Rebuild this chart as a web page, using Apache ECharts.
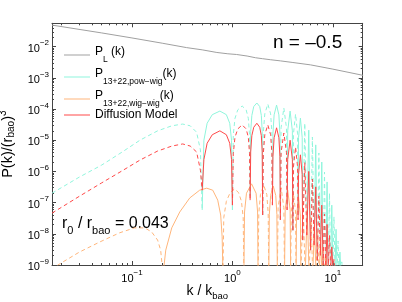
<!DOCTYPE html>
<html><head><meta charset="utf-8">
<script src="https://cdn.jsdelivr.net/npm/echarts@6/dist/echarts.min.js"></script>
<style>html,body{margin:0;padding:0;background:#fff}#c{width:402px;height:302px}</style>
</head><body><div id="c"></div>
<script>
// ---- data (k in units of k_bao; P signed: + solid, - dashed (negative values)) ----
const linK = [0.016, 0.05, 0.1, 0.2, 0.35, 0.5, 0.7, 0.9, 1.1, 1.4, 1.7, 2.0, 2.4, 3.0, 4.0, 6.0, 10, 20];
const linP = [0.049, 0.0275, 0.019, 0.0129, 0.0093, 0.0079, 0.0065, 0.0059, 0.0056, 0.0050, 0.0044, 0.0041, 0.0038, 0.0035, 0.0031, 0.0026, 0.0019, 0.0012];

const powK = [0.016, 0.03, 0.05, 0.08, 0.12, 0.18, 0.25, 0.32, 0.38, 0.44, 0.48, 0.5,
  0.5, 0.52, 0.56, 0.63, 0.75, 0.87, 0.94, 0.98, 1.0,
  1.0, 1.02, 1.06, 1.13, 1.25, 1.37, 1.44, 1.48, 1.5,
  1.5, 1.52, 1.56, 1.63, 1.75, 1.87, 1.94, 1.98, 2.0,
  2.0, 2.03, 2.1, 2.25, 2.4, 2.47, 2.5,
  2.5, 2.53, 2.6, 2.75, 2.9, 2.97, 3.0,
  3.0, 3.05, 3.25, 3.45, 3.5,
  3.5, 3.55, 3.75, 3.95, 4.0,
  4.0, 4.05, 4.25, 4.45, 4.5,
  4.5, 4.55, 4.75, 4.95, 5.0,
  5.0, 5.25, 5.5, 5.5, 5.75, 6.0, 6.0, 6.25, 6.5, 6.5, 6.75, 7.0, 7.0, 7.25, 7.5, 7.5, 7.75, 8.0,
  8.0, 8.25, 8.5, 8.5, 8.75, 9.0, 9.0, 9.25, 9.5, 9.5, 9.75, 10, 10, 10.25, 10.5, 10.5, 10.75, 11,
  11, 11.25, 11.5, 11.5, 11.75, 12, 12, 12.25, 12.5];
const powP = [-2.0e-7, -6.6e-7, -1.6e-6, -4.2e-6, -1.0e-5, -2.0e-5, -2.9e-5, -3.3e-5, -2.9e-5, -1.8e-5, -4.9e-6, -5.8e-8,
  5.8e-8, 1.0e-5, 3.5e-5, 6.6e-5, 8.6e-5, 6.6e-5, 3.5e-5, 1.0e-5, 5.8e-8,
  -5.8e-8, -1.5e-5, -5.0e-5, -9.4e-5, -1.25e-4, -9.4e-5, -5.0e-5, -1.5e-5, -1.7e-7,
  1.7e-7, 1.9e-5, 6.2e-5, 1.2e-4, 1.56e-4, 1.2e-4, 6.2e-5, 1.9e-5, 4.0e-8,
  -4.0e-8, -1.8e-5, -7.0e-5, -1.45e-4, -7.0e-5, -1.8e-5, -1.2e-7,
  1.2e-7, 1.6e-5, 6.5e-5, 1.34e-4, 6.5e-5, 1.6e-5, 2.8e-8,
  -2.8e-8, -2.5e-5, -1.08e-4, -2.5e-5, -8.3e-8,
  8.3e-8, 2.0e-5, 8.6e-5, 2.0e-5, 1.3e-8,
  -1.3e-8, -1.6e-5, -6.9e-5, -1.6e-5, -4.0e-8,
  4.0e-8, 1.2e-5, 5.1e-5, 1.2e-5, 6.3e-9,
  -6.3e-9, -3.5e-5, -1.3e-8, 1.3e-8, 2.1e-5, 3.0e-9, -3.0e-9, -1.26e-5, -6.3e-9, 6.3e-9, 7.1e-6, 1.4e-9, -1.4e-9, -3.9e-6, -3.0e-9, 3.0e-9, 2.0e-6, 1.0e-9,
  -1.0e-9, -9.5e-7, -7e-10, 7e-10, 4.6e-7, 7e-10, -7e-10, -2.0e-7, -7e-10, 7e-10, 8.3e-8, 7e-10, -7e-10, -3.5e-8, -7e-10, 7e-10, 1.4e-8, 7e-10,
  -7e-10, -5.9e-9, -7e-10, 7e-10, 2.6e-9, 7e-10, -7e-10, -1.26e-9, -7e-10];

const wigK = [0.016, 0.0183, 0.03, 0.048, 0.075, 0.106, 0.134, 0.157, 0.18, 0.193, 0.204,
  0.204, 0.217, 0.249, 0.299, 0.376, 0.472, 0.555, 0.637, 0.714, 0.764, 0.79, 0.805,
  0.805, 0.82, 0.87, 0.95, 1.05, 1.15, 1.23, 1.28, 1.3,
  1.3, 1.32, 1.38, 1.55, 1.72, 1.78, 1.8,
  1.8, 1.83, 1.9, 2.05, 2.2, 2.27, 2.3,
  2.3, 2.33, 2.4, 2.55, 2.7, 2.77, 2.8,
  2.8, 2.85, 3.05, 3.25, 3.3,
  3.3, 3.35, 3.55, 3.75, 3.8,
  3.8, 3.85, 4.05, 4.25, 4.3,
  4.3, 4.35, 4.55, 4.75, 4.8,
  4.8, 5.05, 5.3, 5.3, 5.55, 5.8, 5.8, 6.05, 6.3, 6.3, 6.55, 6.8, 6.8, 7.05, 7.3,
  7.3, 7.55, 7.8, 7.8, 8.05, 8.3, 8.3, 8.55, 8.8, 8.8, 9.05, 9.3];
const wigP = [-6.9e-10, -1.0e-9, -2.6e-9, -5.5e-9, -1.07e-8, -1.55e-8, -1.55e-8, -1.15e-8, -6.3e-9, -3.0e-9, -5e-10,
  5e-10, 3.0e-9, 1.55e-8, 5.0e-8, 1.41e-7, 2.5e-7, 2.9e-7, 2.5e-7, 1.2e-7, 4.0e-8, 8e-9, 5e-10,
  -5e-10, -3.3e-8, -1.1e-7, -2.1e-7, -2.75e-7, -2.1e-7, -1.1e-7, -3.3e-8, -5e-10,
  5e-10, 5e-8, 2.0e-7, 4.0e-7, 2.0e-7, 5e-8, 5e-10,
  -5e-10, -4.5e-8, -1.8e-7, -3.6e-7, -1.8e-7, -4.5e-8, -5e-10,
  5e-10, 4.2e-8, 1.7e-7, 3.4e-7, 1.7e-7, 4.2e-8, 5e-10,
  -5e-10, -7e-8, -3.0e-7, -7e-8, -5e-10,
  5e-10, 6e-8, 2.5e-7, 6e-8, 5e-10,
  -5e-10, -5e-8, -2.0e-7, -5e-8, -5e-10,
  5e-10, 3.7e-8, 1.5e-7, 3.7e-8, 5e-10,
  -5e-10, -9.8e-8, -5e-10, 5e-10, 5.8e-8, 5e-10, -5e-10, -3.5e-8, -5e-10, 5e-10, 2.0e-8, 5e-10, -5e-10, -1.15e-8, -5e-10,
  5e-10, 6.3e-9, 5e-10, -5e-10, -3.5e-9, -5e-10, 5e-10, 1.95e-9, 5e-10, -5e-10, -1.07e-9, -5e-10];

const difK = [0.016, 0.03, 0.05, 0.08, 0.12, 0.18, 0.25, 0.32, 0.38, 0.44, 0.48, 0.5,
  0.5, 0.52, 0.56, 0.63, 0.75, 0.87, 0.94, 0.98, 1.0,
  1.0, 1.02, 1.06, 1.13, 1.25, 1.37, 1.44, 1.48, 1.5,
  1.5, 1.52, 1.56, 1.63, 1.75, 1.87, 1.94, 1.98, 2.0,
  2.0, 2.03, 2.1, 2.25, 2.4, 2.47, 2.5,
  2.5, 2.53, 2.6, 2.75, 2.9, 2.97, 3.0,
  3.0, 3.05, 3.25, 3.45, 3.5,
  3.5, 3.55, 3.75, 3.95, 4.0,
  4.0, 4.05, 4.25, 4.45, 4.5,
  4.5, 4.55, 4.75, 4.95, 5.0,
  5.0, 5.25, 5.5, 5.5, 5.75, 6.0, 6.0, 6.25, 6.5, 6.5, 6.75, 7.0, 7.0, 7.25, 7.5, 7.5, 7.75, 8.0,
  8.0, 8.25, 8.5, 8.5, 8.75, 9.0, 9.0, 9.25, 9.5, 9.5, 9.75, 10, 10, 10.25, 10.5];
const difP = [-4.6e-8, -1.6e-7, -4.3e-7, -1.05e-6, -2.3e-6, -4.5e-6, -6.5e-6, -7.6e-6, -6.5e-6, -4.2e-6, -1.1e-6, -2.5e-7,
  2.5e-7, 2.4e-6, 8.0e-6, 1.5e-5, 2.0e-5, 1.5e-5, 8.0e-6, 2.4e-6, 8.3e-8,
  -8.3e-8, -3.7e-6, -1.24e-5, -2.3e-5, -3.1e-5, -2.3e-5, -1.24e-5, -3.7e-6, -1.2e-7,
  1.2e-7, 4.2e-6, 1.4e-5, 2.6e-5, 3.5e-5, 2.6e-5, 1.4e-5, 4.2e-6, 4.0e-8,
  -4.0e-8, -3.7e-6, -1.5e-5, -3.1e-5, -1.5e-5, -3.7e-6, -8.3e-8,
  8.3e-8, 3.0e-6, 1.2e-5, 2.5e-5, 1.2e-5, 3.0e-6, 2.8e-8,
  -2.8e-8, -4.0e-6, -1.7e-5, -4.0e-6, -5.8e-8,
  5.8e-8, 2.4e-6, 1.0e-5, 2.4e-6, 1.3e-8,
  -1.3e-8, -1.4e-6, -6.0e-6, -1.4e-6, -2.8e-8,
  2.8e-8, 8.0e-7, 3.4e-6, 8.0e-7, 6.3e-9,
  -6.3e-9, -1.9e-6, -9.1e-9, 9.1e-9, 1.0e-6, 3.0e-9, -3.0e-9, -5.7e-7, -4.3e-9, 4.3e-9, 3.2e-7, 1.4e-9, -1.4e-9, -1.6e-7, -2.0e-9, 2.0e-9, 8.3e-8, 1.0e-9,
  -1.0e-9, -4.3e-8, -7e-10, 7e-10, 2.0e-8, 7e-10, -7e-10, -9.1e-9, -7e-10, 7e-10, 3.8e-9, 7e-10, -7e-10, -1.5e-9, -7e-10];

const xMajorTicks = [0.1, 1, 10];
const yMajorTicks = [1e-9, 1e-8, 1e-7, 1e-6, 1e-5, 1e-4, 1e-3, 1e-2];
const kRange = [0.016, 19.8];
const pRange = [1e-9, 0.056];

// ---- build ----
const FONT = "'Liberation Sans', Arial, Helvetica, sans-serif";
const L = Math.log10;
const XMIN = L(kRange[0]), XMAX = L(kRange[1]);
const YMIN = L(pRange[0]), YMAX = L(pRange[1]);

function minors(lo, hi) {
  const out = [];
  for (let e = Math.floor(lo) - 1; e <= Math.ceil(hi); e++)
    for (let m = 2; m <= 9; m++) { const v = e + L(m); if (v > lo && v < hi) out.push(v); }
  return out;
}
const xMaj = xMajorTicks.map(L).map(Math.round), yMaj = yMajorTicks.map(L).map(Math.round);
const xMin = minors(XMIN, XMAX), yMin = minors(YMIN, YMAX);

function supLabel(v) {
  const e = Math.round(v);
  return '{b|10}{s|' + (e < 0 ? '\u2212' + (-e) : e) + '}';
}
const tickRich = {
  b: { fontSize: 11, lineHeight: 15, verticalAlign: 'bottom', fontFamily: FONT, color: '#000' },
  s: { fontSize: 8, lineHeight: 15, verticalAlign: 'top', fontFamily: FONT, color: '#000' }
};
const AX = '#444';
function mkAxis(isX, pos, vals, len, opts) {
  const a = {
    type: 'value', position: pos, min: isX ? XMIN : YMIN, max: isX ? XMAX : YMAX,
    axisLine: { show: !!opts.line, onZero: false, lineStyle: { color: AX, width: 1 } },
    axisTick: { show: true, inside: true, length: len, customValues: vals, lineStyle: { color: AX, width: 1 } },
    axisLabel: { show: false },
    splitLine: { show: false }
  };
  if (opts.labels) {
    a.axisLabel = { show: true, customValues: vals, formatter: supLabel, margin: isX ? 4 : 3, rich: tickRich };
  }
  if (opts.name) Object.assign(a, opts.name);
  return a;
}

function build(name, color, ks, ps) {
  const solid = [], dashed = [];
  let prev = 0;
  for (let i = 0; i < ks.length; i++) {
    const s = ps[i] > 0 ? 1 : -1;
    const pt = [L(ks[i]), L(Math.abs(ps[i]))];
    if (prev && s !== prev) (prev > 0 ? solid : dashed).push([pt[0], '-']);
    (s > 0 ? solid : dashed).push(pt);
    prev = s;
  }
  const common = { name, type: 'line', symbol: 'none', showSymbol: false, silent: true,
    connectNulls: false, animation: false, itemStyle: { color }, xAxisIndex: 0, yAxisIndex: 0 };
  const out = [Object.assign({}, common, { data: solid, lineStyle: { color, width: 1, type: 'solid' } })];
  if (dashed.length) out.push(Object.assign({}, common, { data: dashed, lineStyle: { color, width: 1, type: [4, 3] } }));
  return out;
}

const C_LIN = '#a0a0a0', C_POW = '#8ff5dc', C_WIG = '#ffb57a', C_DIF = '#ff4848';
const series = [].concat(
  build('PL', C_LIN, linK, linP),
  build('pow', C_POW, powK, powP),
  build('wig', C_WIG, wigK, wigP),
  build('dif', C_DIF, difK, difP)
);

const legendNames = ['PL', 'pow', 'wig', 'dif'];
const legendText = {
  PL: '{m|P}{sub|L}{m| (k)}',
  pow: '{m|P}{sub|13+22,pow\u2212wig}{m|(k)}',
  wig: '{m|P}{sub|13+22,wig\u2212wig}{m|(k)}',
  dif: '{d|Diffusion Model}'
};
const legendTops = [46, 68, 90, 109];
const legendRich = {
  m: { fontSize: 12, lineHeight: 18, verticalAlign: 'top', fontFamily: FONT, color: '#000' },
  sub: { fontSize: 8.5, lineHeight: 18, verticalAlign: 'bottom', fontFamily: FONT, color: '#000' },
  d: { fontSize: 12, lineHeight: 18, fontFamily: FONT, color: '#000' }
};
const legends = legendNames.map((n, i) => ({
  data: [n], orient: 'vertical', left: 64, top: legendTops[i], padding: 0,
  itemWidth: 26, itemHeight: 1, icon: 'rect', selectedMode: false,
  formatter: nm => legendText[nm],
  textStyle: { fontFamily: FONT, color: '#000', rich: legendRich }
}));

const option = {
  animation: false,
  backgroundColor: '#fff',
  grid: { left: 52, right: 39.3, top: 23.3, bottom: 37, containLabel: false, outerBoundsMode: 'none' },
  xAxis: [
    mkAxis(true, 'bottom', xMaj, 4, { line: true, labels: true, name: {
      name: '{m|k / k}{sub|bao}', nameLocation: 'middle', nameGap: 19, nameMoveOverlap: false,
      nameTextStyle: { rich: {
        m: { fontSize: 14, lineHeight: 17, verticalAlign: 'top', fontFamily: FONT, color: '#000' },
        sub: { fontSize: 9.5, lineHeight: 17, verticalAlign: 'bottom', fontFamily: FONT, color: '#000' } } } } }),
    mkAxis(true, 'bottom', xMin, 2, {}),
    mkAxis(true, 'top', xMaj, 4, { line: true }),
    mkAxis(true, 'top', xMin, 2, {})
  ],
  yAxis: [
    mkAxis(false, 'left', yMaj, 4, { line: true, labels: true, name: {
      name: '{m|P(k)/(r}{sub|bao}{m|)}{sup|3}', nameLocation: 'middle', nameGap: 31, nameRotate: 90,
      nameTextStyle: { rich: {
        m: { fontSize: 14.5, lineHeight: 18, fontFamily: FONT, color: '#000' },
        sub: { fontSize: 10, lineHeight: 18, verticalAlign: 'bottom', fontFamily: FONT, color: '#000' },
        sup: { fontSize: 10, lineHeight: 18, verticalAlign: 'top', fontFamily: FONT, color: '#000' } } } } }),
    mkAxis(false, 'left', yMin, 2, {}),
    mkAxis(false, 'right', yMaj, 4, { line: true }),
    mkAxis(false, 'right', yMin, 2, {})
  ],
  legend: legends,
  graphic: [
    { type: 'text', left: 273, top: 33, silent: true,
      style: { text: 'n = \u20130.5', font: '19px ' + FONT, fill: '#000' } },
    { type: 'text', x: 62, y: 226, silent: true,
      style: { text: '{m|r}{sub|0}{m| / r}{sub|bao}{m| = 0.043}', verticalAlign: 'middle', align: 'left',
        rich: {
          m: { fontSize: 16, lineHeight: 20, verticalAlign: 'top', fontFamily: FONT, fill: '#000' },
          sub: { fontSize: 11, lineHeight: 20, verticalAlign: 'bottom', fontFamily: FONT, fill: '#000' } } } }
  ],
  series
};
const chart = echarts.init(document.getElementById('c'), null, { renderer: 'canvas', width: 402, height: 302 });
chart.setOption(option);
</script></body></html>
